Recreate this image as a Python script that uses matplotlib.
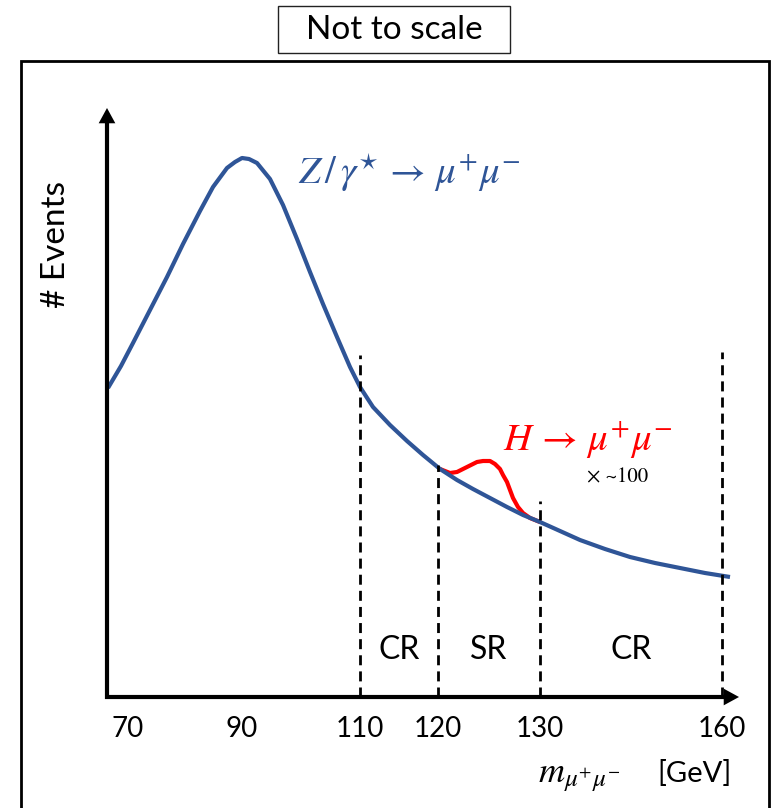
import matplotlib
matplotlib.use("Agg")
import matplotlib.pyplot as plt
from matplotlib.lines import Line2D
from matplotlib.patches import Rectangle

plt.rcParams['font.family'] = ['Lato', 'DejaVu Sans']
plt.rcParams['mathtext.fontset'] = 'stix'

# schematic axis, "not to scale": tick positions do not follow the mass values
tick_mass = [70, 90, 110, 120, 130, 160]
tick_pos = [21, 135, 253, 331, 433, 615]
region_names = ['CR', 'SR', 'CR']

# Z/gamma* -> mumu background shape
bkg_x = [1, 14, 26, 43, 60, 76, 93, 106, 120, 128, 135, 142, 150, 163, 176,
         190, 203, 216, 230, 243, 253, 266, 283, 300, 316, 333, 350, 366, 383,
         400, 416, 433, 453, 473, 498, 523, 548, 573, 598, 623]
bkg_y = [309, 331, 354, 387, 420, 453, 486, 510, 529, 535, 539, 538, 534, 518,
         492, 458, 425, 393, 360, 330, 310, 290, 272, 256, 242, 228, 217, 208,
         199, 190, 182, 175, 166, 157, 148, 140, 134, 129, 124, 120]

# H -> mumu signal on top of background (x ~100)
sig_x = [333, 343, 350, 360, 370, 376, 383, 388, 393, 396, 400, 403, 406,
         411, 416, 423, 433]
sig_y = [228, 224, 225, 230, 235, 236, 236, 233, 228, 222, 215, 207, 199,
         190, 184, 179, 175]

blue = '#2F5597'
red = '#FF0000'

W, H = 774, 808
fig = plt.figure(figsize=(W / 100, H / 100), dpi=100)
ax = fig.add_axes([107 / W, 111 / H, 634 / W, 602 / H])
ax.set_xlim(0, 634)
ax.set_ylim(0, 602)
ax.axis('off')

# outer frame and the title box
fig.add_artist(Line2D([21 / W, 21 / W, 769 / W, 769 / W],
                      [-0.01, 1 - 61 / H, 1 - 61 / H, -0.01],
                      color='k', lw=2, solid_joinstyle='miter'))
fig.add_artist(Rectangle((278 / W, 1 - 53 / H), 232 / W, 47 / H,
                         transform=fig.transFigure, fc='white', ec='#222222', lw=1))
fig.text(394 / W, 1 - 30 / H, 'Not to scale', ha='center', va='center', fontsize=24)

# axes with arrow heads
ax.plot([0, 0, 625], [580, 0, 0], color='k', lw=3, solid_joinstyle='miter',
        clip_on=False, zorder=5)
ax.annotate('', xy=(632, 0), xytext=(610, 0),
            arrowprops=dict(arrowstyle='-|>,head_length=0.55,head_width=0.3',
                            color='k', lw=0, shrinkA=0, shrinkB=0, mutation_scale=20),
            annotation_clip=False, zorder=6)
ax.annotate('', xy=(0, 589), xytext=(0, 567),
            arrowprops=dict(arrowstyle='-|>,head_length=0.55,head_width=0.3',
                            color='k', lw=0, shrinkA=0, shrinkB=0, mutation_scale=20),
            annotation_clip=False, zorder=6)

for m, p in zip(tick_mass, tick_pos):
    ax.text(p, -32, str(m), ha='center', va='center', fontsize=20)

# region boundaries
dash_top = [342, 232, 196, 345]
ax.vlines(tick_pos[2:], 0, dash_top, colors='k', lw=2, linestyles=(0, (3.6, 2.2)),
          zorder=4)
edges = tick_pos[2:]
for i, name in enumerate(region_names):
    ax.text((edges[i] + edges[i + 1]) / 2, 47, name, ha='center', va='center',
            fontsize=23)

ax.plot(sig_x, sig_y, color=red, lw=3, solid_capstyle='round',
        solid_joinstyle='round', zorder=2, clip_on=False)
ax.plot(bkg_x, bkg_y, color=blue, lw=3, solid_capstyle='butt',
        solid_joinstyle='round', zorder=3, clip_on=False)

ax.text(191, 524, r'$Z\,/\,\gamma^{\star}\,\rightarrow\,\mu^{+}\mu^{-}$', color=blue,
        ha='left', va='center', fontsize=28)
ax.text(396, 257, r'$H\,\rightarrow\,\mu^{+}\mu^{-}$', color=red,
        ha='left', va='center', fontsize=28)
ax.text(480, 219, '× ~100', family='STIXGeneral', ha='left', va='center', fontsize=15)

ax.text(-51, 452, '# Events', rotation=90, ha='center', va='center', fontsize=24)
ax.text(513, -85, r'$m_{\mu^{+}\mu^{-}}$', ha='right', va='baseline', fontsize=26)
ax.text(550, -85, '[GeV]', ha='left', va='baseline', fontsize=21)

fig.savefig('out.png', dpi=100)
